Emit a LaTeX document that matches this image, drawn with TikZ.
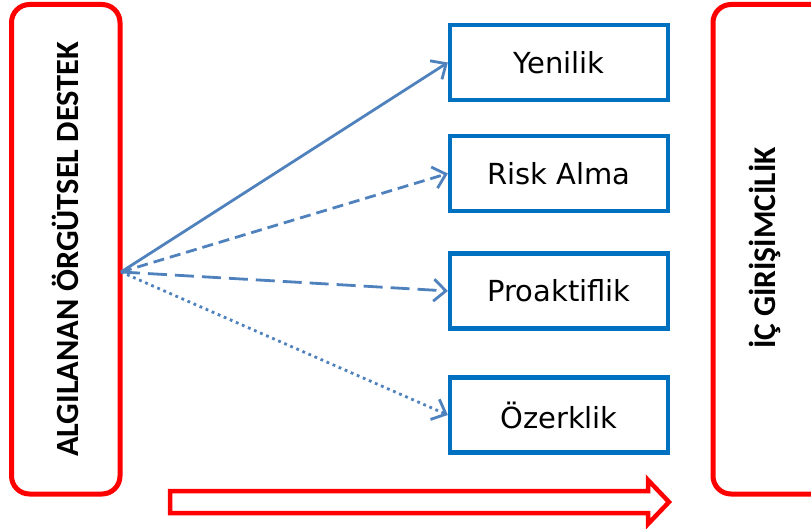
\documentclass[tikz,border=0pt]{standalone}
\usepackage{fontspec}
\setmainfont{Carlito}
\newfontfamily\boxfont{DejaVu Sans}
\usetikzlibrary{arrows.meta}
\definecolor{redc}{HTML}{FF0000}
\definecolor{boxblue}{HTML}{0070C0}
\definecolor{arrblue}{HTML}{4F81BD}
\begin{document}
\begin{tikzpicture}[x=1pt,y=-1pt,
  redbox/.style={draw=redc, line width=5pt, rounded corners=18pt, inner sep=0pt, fill=white},
  bluebox/.style={draw=boxblue, line width=4.3pt, minimum width=218pt, minimum height=75pt, inner sep=0pt, font=\boxfont\fontsize{29}{34}\selectfont},
  link/.style={draw=arrblue, line width=2.8pt, -{Straight Barb[length=12pt,width=22pt,line width=2.8pt]}},
  vlabel/.style={font=\bfseries\fontsize{31.5}{36}\selectfont, rotate=90, inner sep=0pt},
  bigarrow/.style={draw=redc, line width=4.5pt, fill=white, line join=miter}]
\useasboundingbox (0,0) rectangle (811,529);
\clip (0,0) rectangle (811,529);
% left box
\node[redbox, rotate=90, minimum width=489.5pt, minimum height=108.5pt,
      font=\bfseries\fontsize{32.4}{38}\selectfont] (src) at (65.75,249.25) {ALGILANAN ÖRGÜTSEL DESTEK};
% right box
\node[redbox, minimum width=187pt, minimum height=489.5pt] (dst) at (806.5,249.25) {};
\node[vlabel] (dstlabel) at (765,248) {İÇ GİRİŞİMCİLİK};
% blue boxes
\node[bluebox] (yen) at (559,62.5) {Yenilik};
\node[bluebox] (risk) at (559,173.5) {Risk Alma};
\node[bluebox] (pro) at (559,291) {Proaktiflik};
\node[bluebox] (oz) at (559,415) {Özerklik};
% arrows
\coordinate (o) at (121,272);
\draw[link] (o) -- (yen.west);
\draw[link, dash pattern=on 11pt off 6pt] (o) -- (risk.west);
\draw[link, dash pattern=on 19pt off 8pt] (o) -- (pro.west);
\draw[link, dash pattern=on 2.8pt off 3.8pt] (o) -- (oz.west);
% bottom block arrow
\draw[bigarrow] (170,491) -- (648,491) -- (648,480) -- (669,502) -- (648,524) -- (648,513) -- (170,513) -- cycle;
\end{tikzpicture}
\end{document}
